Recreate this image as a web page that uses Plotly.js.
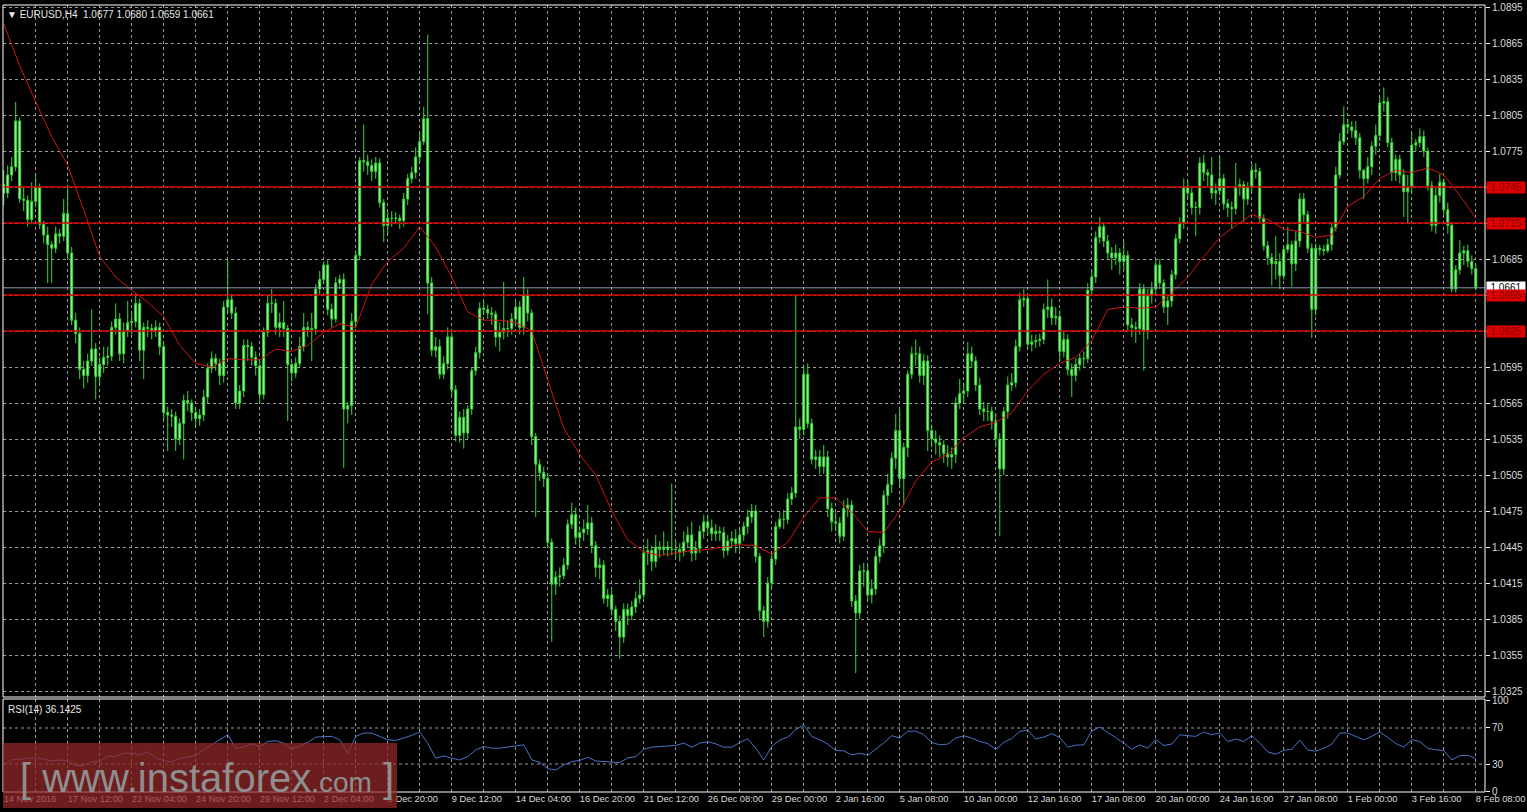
<!DOCTYPE html>
<html><head><meta charset="utf-8">
<script src="https://cdn.plot.ly/plotly-3.0.1.min.js"></script>
<style>html,body{margin:0;padding:0;background:#000;overflow:hidden}#chart{width:1527px;height:812px}</style>
</head><body><div id="chart"></div>
<script>
// EURUSD H4 prices in pips above 1.0000 (e.g. 745 = 1.0745); bar 0 = 14 Nov 2016 20:00
const firstOpenPips = 747;
const closePips = [
740,755,762,800,735,734,718,733, 745,714,705,697,694,706,704,723,
690,634,623,593,588,600,610,587, 597,603,604,628,635,606,625,632,
633,648,609,628,627,625,628,612, 557,555,554,535,548,567,565,557,
552,555,570,594,602,598,588,645, 651,640,565,575,613,612,603,596,
572,624,648,648,628,632,627,597, 590,598,612,628,626,627,660,668,
680,643,635,665,668,560,563,633, 688,767,766,763,758,765,732,713,
719,719,719,717,735,752,757,770, 783,802,665,609,612,589,598,620,
576,538,553,540,560,592,607,644, 643,640,639,620,624,627,627,635,
645,628,655,640,537,514,507,502, 449,414,420,421,430,464,472,453,
457,460,465,446,428,430,402,405, 393,383,370,393,388,395,402,405,
440,442,433,445,443,445,443,443, 443,441,449,455,440,444,458,466,
461,456,458,457,442,450,452,448, 455,462,470,475,437,392,383,415,
435,462,468,468,485,490,545,543, 589,548,518,520,512,520,477,466,
465,454,477,480,400,390,425,425, 405,410,437,446,488,497,519,542,
502,528,589,606,606,588,600,542, 535,532,530,523,520,522,565,573,
575,606,600,580,560,558,558,550, 535,510,558,580,582,612,651,652,
614,616,617,618,643,645,636,637, 608,618,593,588,597,602,602,659,
670,703,712,700,690,686,690,683, 688,630,628,627,660,625,655,660,
680,665,645,650,672,702,715,745, 740,728,728,765,757,755,740,742,
752,731,728,727,745,747,735,745, 759,758,719,696,686,681,683,671,
693,697,681,700,735,722,694,643, 694,693,692,697,711,755,783,797,
795,792,786,759,752,762,779,788, 815,816,782,757,768,755,741,745,
780,782,787,775,746,713,738,749, 726,713,660,676,690,692,683,677,
661];
const highPips = [
759,763,770,816,803,745,738,749, 756,748,717,712,700,712,710,735,
744,695,640,628,600,606,643,615, 603,612,612,633,648,640,632,650,
640,656,652,632,634,631,634,632, 615,562,560,558,552,572,575,568,
562,560,576,598,608,606,602,650, 685,656,645,580,618,618,616,608,
600,628,655,660,652,640,650,630, 600,603,620,640,633,640,664,675,
683,684,648,670,672,673,566,640, 692,770,797,772,768,770,769,735,
724,725,724,722,740,756,762,778, 790,812,872,670,620,618,604,628,
624,580,558,560,563,595,612,649, 650,647,645,642,632,666,634,640,
650,650,670,660,643,540,518,512, 506,452,425,428,436,468,482,478,
462,468,480,470,450,436,434,410, 409,396,388,398,398,400,408,418,
446,452,446,455,450,458,450,498, 450,448,458,462,466,450,463,472,
472,468,464,462,462,455,458,460, 460,466,476,481,480,440,396,420,
440,466,474,476,490,495,654,552, 596,598,552,526,526,530,525,482,
474,470,484,486,484,405,430,432, 430,418,442,452,492,506,524,556,
560,532,592,612,618,612,606,605, 547,542,538,534,530,528,570,585,
582,616,612,604,586,566,565,562, 556,540,562,587,590,618,657,660,
656,622,622,623,648,668,652,645, 642,625,622,598,602,606,608,665,
676,708,720,716,705,695,697,694, 700,692,636,633,665,664,660,666,
684,685,668,655,676,706,720,752, 750,744,733,770,772,760,770,748,
770,756,735,733,765,752,750,749, 764,765,761,722,700,690,704,690,
696,712,700,708,740,740,725,698, 698,697,697,702,716,762,790,812,
802,800,800,790,760,770,783,797, 820,828,820,786,772,772,760,755,
790,785,794,792,778,750,745,756, 752,732,716,680,701,696,697,688,
680];
const lowPips = [
730,736,750,758,732,725,712,714, 728,710,698,665,665,690,698,700,
685,630,615,585,577,582,596,568, 580,590,596,600,622,600,598,620,
622,628,600,585,620,618,620,605, 550,525,545,525,530,518,558,550,
545,546,550,565,590,592,580,582, 640,635,560,560,570,600,596,588,
565,568,620,640,622,620,620,550, 583,586,594,608,620,600,622,655,
664,638,628,632,660,511,548,555, 628,684,758,755,750,752,728,699,
706,712,714,710,712,730,748,752, 765,780,639,604,603,585,585,593,
570,533,532,527,535,555,588,602, 638,635,630,612,608,618,620,622,
630,622,622,633,530,470,500,495, 444,366,405,412,418,426,460,447,
446,450,455,440,420,418,398,395, 388,375,352,365,380,384,390,398,
402,430,425,428,436,438,437,438, 436,433,437,445,433,434,440,452,
455,450,450,450,436,438,444,440, 442,450,456,465,432,385,370,378,
410,430,460,460,464,480,486,535, 538,544,514,510,506,506,470,458,
458,448,450,470,395,340,385,412, 400,398,405,432,440,480,490,510,
495,480,520,585,596,582,580,525, 528,522,520,515,512,510,515,560,
566,570,594,575,555,550,550,543, 528,454,505,552,575,578,608,645,
610,608,611,612,614,636,630,630, 600,603,588,570,583,592,594,598,
655,665,698,695,684,676,680,672, 676,625,620,615,622,592,618,648,
655,660,640,630,645,668,698,710, 735,722,704,722,750,745,735,730,
738,726,720,710,722,738,716,730, 740,752,715,692,680,663,668,660,
668,690,662,675,695,715,690,619, 638,688,688,690,692,708,752,780,
790,786,780,752,735,748,755,772, 783,808,778,750,750,748,720,714,
740,775,778,770,742,708,706,732, 722,706,657,657,672,680,678,672,
659];
// moving average (red), read every 4th bar
const maPips = [
881,846,816,787,763,726,687,670,659,649,
637,613,598,595,602,601,601,610,608,613,
624,631,628,664,683,694,712,695,670,641,
634,634,632,625,584,544,522,505,475,451,
441,438,440,442,443,445,447,446,439,449,
470,486,486,474,458,457,475,500,516,522,
536,545,549,557,575,589,598,603,617,643,
645,644,645,657,670,687,703,713,722,718,
710,708,703,705,729,737,752,759,757,761,
755,738,719];
// RSI(14), read every 2nd bar
const rsiValues = [
28.9,34.5,35.2,36.4,37.1,35.2,33.4,34.5,33.4,28.1,28.1,32.6,32.6,39.0,38.2,42.0,42.0,40.1,43.5,37.1,
33.4,32.6,36.4,37.5,39.7,45.7,51.3,56.9,62.5,47.6,48.7,52.4,49.4,55.0,55.8,53.2,46.4,50.2,53.9,59.9,
60.7,60.7,56.9,42.0,60.7,64.4,64.4,60.7,56.9,56.2,58.8,61.8,65.5,53.2,36.4,39.0,36.4,34.5,38.2,45.7,
49.4,47.6,47.6,
49.1,50.6,51.3,34.5,31.9,24.8,23.3,28.9,32.6,34.1,37.5,33.4,32.6,32.2,31.5,36.7,38.2,46.4,48.7,49.4,
50.2,50.6,53.2,48.7,53.2,54.7,52.4,48.7,48.7,53.9,58.0,47.6,34.5,49.4,56.5,59.9,68.1,73.4,60.7,56.9,
52.1,45.0,44.6,40.1,42.0,39.7,46.4,53.2,61.4,58.8,66.3,66.6,62.5,53.9,51.3,52.1,58.8,61.4,58.8,55.0,
52.8,46.4,53.9,58.4,66.3,
67.8,57.7,59.9,63.6,59.5,48.7,50.9,51.3,66.6,71.1,65.5,59.2,53.2,46.4,51.3,47.6,57.3,50.6,52.1,62.5,
61.4,60.7,65.5,62.5,64.4,55.0,57.7,55.0,61.4,53.2,43.5,40.8,45.3,46.4,56.5,45.7,44.2,47.6,52.1,64.4,
64.4,60.7,56.9,60.7,65.5,59.5,52.8,48.7,56.9,55.0,47.6,45.7,45.0,34.5,39.3,39.7,36.1];
const timeLabels = ["14 Nov 2016","17 Nov 12:00","22 Nov 04:00","24 Nov 20:00","29 Nov 12:00","2 Dec 04:00",
"6 Dec 20:00","9 Dec 12:00","14 Dec 04:00","16 Dec 20:00","21 Dec 12:00","26 Dec 08:00","29 Dec 00:00",
"2 Jan 16:00","5 Jan 08:00","10 Jan 00:00","12 Jan 16:00","17 Jan 08:00","20 Jan 00:00","24 Jan 16:00",
"27 Jan 08:00","1 Feb 00:00","3 Feb 16:00","8 Feb 08:00"];
const priceTicks = [1.0325,1.0355,1.0385,1.0415,1.0445,1.0475,1.0505,1.0535,1.0565,1.0595,
1.0625,1.0655,1.0685,1.0715,1.0745,1.0775,1.0805,1.0835,1.0865,1.0895];
const rsiTicks = [0,30,70,100];
const rsiLevels = [30,70];
const levelLines = [1.0745,1.0715,1.0655,1.0625];
const lastPrice = 1.0661;
const titleText = "EURUSD,H4  1.0677 1.0680 1.0659 1.0661";
const rsiText = "RSI(14) 36.1425";

const toPrice = p => 1 + p / 10000;
const bars = closePips.map((_, i) => i);
const openPips = [firstOpenPips].concat(closePips.slice(0, -1));

const FONT = 'Liberation Sans, Arial, sans-serif';
const GRID = '#9c9c9c';
const candleStyle = {line:{color:'#3ad83a', width:1}, fillcolor:'#a4f7a4'};

const traces = [
  {type:'candlestick', x:bars, open:openPips.map(toPrice), high:highPips.map(toPrice),
   low:lowPips.map(toPrice), close:closePips.map(toPrice), xaxis:'x', yaxis:'y',
   increasing:candleStyle, decreasing:candleStyle, whiskerwidth:0, hoverinfo:'skip', showlegend:false},
  {type:'scatter', mode:'lines', x:maPips.map((_, i) => i * 4), y:maPips.map(toPrice),
   xaxis:'x', yaxis:'y', line:{color:'#d41414', width:1}, hoverinfo:'skip', showlegend:false},
  {type:'scatter', mode:'lines', x:rsiValues.map((_, i) => i * 2), y:rsiValues,
   xaxis:'x', yaxis:'y2', line:{color:'#4a74c8', width:1}, hoverinfo:'skip', showlegend:false}
];

// chart geometry (pixels)
const W = 1527, H = 812, mL = 3, mR = 42, mT = 5, mB = 20;
const plotH = H - mT - mB;          // 787
const mainDom = [(792 - 697) / plotH, 1];
const rsiDom = [0, (792 - 699) / plotH];

const gridBars = [];
const gridText = [];
for (let b = 0; b < closePips.length; b += 8) {
  gridBars.push(b);
  gridText.push(b % 16 === 0 ? timeLabels[b / 16] : '');
}

const shapes = [];
levelLines.forEach(v => shapes.push({type:'line', xref:'paper', x0:0, x1:1, yref:'y', y0:v, y1:v,
  line:{color:'#d80000', width:1.4}, layer:'above'}));
shapes.push({type:'line', xref:'paper', x0:0, x1:1, yref:'y', y0:lastPrice, y1:lastPrice,
  line:{color:'#8e9cae', width:1}, layer:'above'});
rsiLevels.forEach(v => shapes.push({type:'line', xref:'paper', x0:0, x1:1, yref:'y2', y0:v, y1:v,
  line:{color:GRID, width:1, dash:'3px,3px'}, layer:'below'}));
// pane frames
shapes.push({type:'rect', xref:'paper', yref:'paper', x0:0, x1:1, y0:mainDom[0], y1:1,
  line:{color:'#ffffff', width:1}, fillcolor:'rgba(0,0,0,0)', layer:'above'});
shapes.push({type:'rect', xref:'paper', yref:'paper', x0:0, x1:1, y0:0, y1:rsiDom[1],
  line:{color:'#ffffff', width:1}, fillcolor:'rgba(0,0,0,0)', layer:'above'});
// watermark box
shapes.push({type:'rect', xref:'paper', yref:'paper', x0:0, x1:(397 - mL) / (W - mL - mR),
  y0:(792 - 808) / plotH, y1:(792 - 743) / plotH, line:{width:0},
  fillcolor:'rgba(150,40,40,0.72)', layer:'above'});

const annotations = [
  {xref:'paper', yref:'paper', x:0, y:1, xanchor:'left', yanchor:'top', xshift:2, yshift:-2,
   text:'▼ ' + titleText, showarrow:false, font:{family:FONT, size:10, color:'#e8e8e8'}},
  {xref:'paper', yref:'paper', x:0, y:rsiDom[1], xanchor:'left', yanchor:'top', xshift:3, yshift:-3,
   text:rsiText, showarrow:false, font:{family:FONT, size:10, color:'#e8e8e8'}},
  {xref:'paper', x:1, xanchor:'left', xshift:1, yref:'y', y:lastPrice, text:lastPrice.toFixed(4),
   showarrow:false, bgcolor:'#ffffff', borderpad:0, width:38, align:'center',
   font:{family:FONT, size:10, color:'#000000'}}
];
levelLines.forEach(v => annotations.push({xref:'paper', x:1, xanchor:'left', xshift:1, yref:'y', y:v,
  text:v.toFixed(4), showarrow:false, bgcolor:'#e00000', borderpad:0, width:38, align:'center',
  font:{family:FONT, size:10, color:'#7a0000'}}));
annotations.push({xref:'paper', yref:'paper', x:(207 - mL) / (W - mL - mR), y:(792 - 778) / plotH,
  xanchor:'center', yanchor:'middle', showarrow:false,
  text:'[ www.instaforex<span style="font-size:28px">.com</span> ]',
  font:{family:FONT, size:40, color:'#8f8f8f'}});

const layout = {
  width:W, height:H, margin:{l:mL, r:mR, t:mT, b:mB, pad:0}, autosize:false,
  paper_bgcolor:'#000000', plot_bgcolor:'#000000', showlegend:false,
  font:{family:FONT, size:10, color:'#dcdcdc'},
  xaxis:{domain:[0,1], anchor:'y2', range:[-0.175, 370.3], tickmode:'array', tickvals:gridBars, ticktext:gridText,
    showgrid:true, gridcolor:GRID, griddash:'3px,3px', gridwidth:1, zeroline:false, showline:false,
    ticks:'', tickangle:0, ticklabelposition:'outside right', ticklabeloverflow:'allow',
    tickfont:{family:FONT, size:9.3, color:'#dcdcdc'}, automargin:false,
    rangeslider:{visible:false}, fixedrange:true},
  yaxis:{domain:mainDom, anchor:'x', side:'right', range:[1.03200, 1.08967], tickmode:'array',
    tickvals:priceTicks, ticktext:priceTicks.map(v => v.toFixed(4)), showgrid:true, gridcolor:GRID,
    griddash:'3px,3px', gridwidth:1, zeroline:false, showline:false, ticks:'outside', ticklen:4,
    tickcolor:'#ffffff', tickfont:{family:FONT, size:10, color:'#dcdcdc'}, automargin:false, fixedrange:true},
  yaxis2:{domain:rsiDom, anchor:'x', side:'right', range:[-1.1, 102.2], tickmode:'array',
    tickvals:rsiTicks, ticktext:rsiTicks.map(String), showgrid:false, zeroline:false, showline:false,
    ticks:'outside', ticklen:4, tickcolor:'#ffffff', tickfont:{family:FONT, size:10, color:'#dcdcdc'},
    automargin:false, fixedrange:true},
  shapes:shapes, annotations:annotations
};

Plotly.newPlot('chart', traces, layout, {staticPlot:true, displayModeBar:false});
</script>
</body></html>
